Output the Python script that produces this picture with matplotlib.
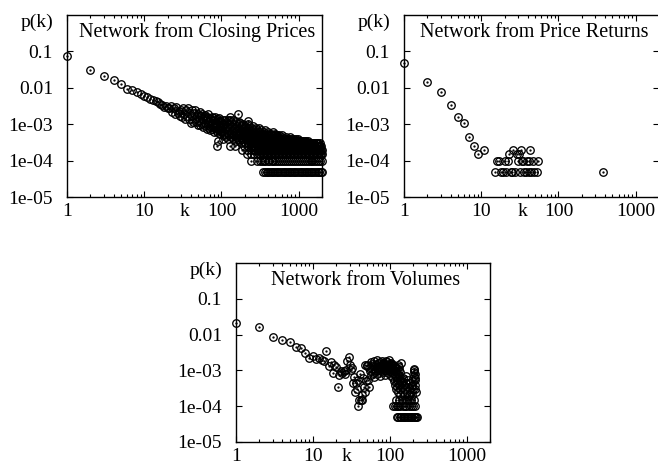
import matplotlib
matplotlib.use("Agg")
import matplotlib.pyplot as plt
from matplotlib.ticker import FixedLocator, FixedFormatter, NullLocator, LogLocator

plt.rcParams['font.family'] = ['Liberation Serif', 'DejaVu Serif']
plt.rcParams['font.size'] = 14

NODES = 20000  # p(k) = count / NODES

# --- network from closing prices ---
# degrees 1..100, one count per degree
close_k = list(range(1, 101))
close_n = [1520, 600, 420, 320, 260, 186, 176, 150, 136, 120,
           112, 100, 92, 86, 80, 74, 66, 60, 64, 56,
           56, 65, 44, 55, 39, 59, 41, 46, 34, 50,
           31, 56, 39, 27, 49, 33, 54, 28, 40, 22,
           49, 33, 23, 40, 27, 48, 23, 33, 19, 39,
           26, 42, 19, 33, 22, 37, 17, 27, 33, 19,
           36, 21, 28, 15, 31, 23, 37, 16, 25, 18,
           30, 14, 26, 20, 32, 15, 22, 17, 29, 12,
           26, 17, 31, 14, 22, 20, 5, 12, 27, 15,
           7, 24, 14, 29, 18, 11, 25, 16, 21, 13]

# degrees above 100, listed by count (they fall on horizontal rows)
close_c1 = [345, 362, 383, 401, 424, 444, 469, 491, 519, 544, 574, 602, 635, 666, 703,
            737, 778, 816, 861, 903, 952, 1000, 1054, 1106, 1166, 1225, 1290, 1355, 1428,
            1500, 1580, 1660, 1749, 1837, 1935, 1998]
close_c2 = [244, 284, 312, 330, 352, 371, 395, 417, 444, 468, 498, 526, 560, 591, 629,
            665, 707, 747, 794, 839, 892, 943, 1002, 1060, 1125, 1191, 1264, 1338, 1420,
            1503, 1596, 1689, 1793, 1898, 1996]
close_c3 = [212, 240, 266, 290, 303, 316, 330, 343, 357, 372, 388, 404, 421, 438, 456,
            475, 495, 515, 536, 558, 581, 605, 630, 656, 683, 711, 741, 771, 803, 836,
            871, 906, 944, 982, 1023, 1065, 1109, 1155, 1203, 1252, 1304, 1357, 1413, 1471,
            1532, 1595, 1661, 1729, 1800, 1874, 1935, 1990]
close_c4 = [185, 214, 238, 262, 274, 287, 300, 314, 327, 340, 354, 369, 384, 400, 417,
            434, 452, 470, 490, 510, 531, 553, 576, 599, 624, 650, 677, 705, 734, 764,
            796, 829, 863, 898, 935, 974, 1014, 1056, 1100, 1145, 1192, 1241, 1292, 1346,
            1401, 1459, 1519, 1582, 1647, 1715, 1786, 1860, 1925, 1985]
close_c5 = [128, 149, 196, 218, 240, 251, 262, 273, 285, 297, 310, 323, 336, 350, 365,
            380, 396, 413, 430, 448, 466, 485, 505, 526, 548, 571, 594, 619, 644, 670,
            698, 727, 757, 789, 821, 855, 890, 927, 965, 1005, 1046, 1089, 1134, 1181,
            1230, 1281, 1333, 1388, 1446, 1505, 1567, 1632, 1699, 1769, 1842, 1905, 1960]
close_c6 = [178, 201, 222, 245, 256, 268, 280, 292, 305, 318, 331, 345, 360, 375, 391,
            407, 424, 441, 459, 478, 498, 518, 539, 561, 584, 608, 633, 659, 686, 714,
            744, 774, 806, 838, 873, 908, 946, 984, 1025, 1066, 1110, 1155, 1203, 1252,
            1303, 1356, 1412, 1469, 1530, 1592, 1657, 1725, 1796, 1869]
close_c7 = [152, 170, 190, 213, 236, 248, 261, 274, 287, 300, 314, 329, 344, 360, 376,
            393, 411, 430, 449, 470, 491, 514, 537, 562, 587, 614, 641, 670, 700, 732,
            765, 800, 836, 874, 913, 955, 998, 1043, 1090, 1140, 1191, 1245, 1301]
close_c8 = [104, 121, 143, 163, 184, 207, 220, 233, 247, 262, 278, 295, 314, 333, 353,
            375, 398, 423, 449, 476, 506, 537, 570, 605, 642, 682, 724, 768, 816, 866,
            920, 976]
close_c9 = [115, 135, 155, 178, 200, 225, 250, 280, 312, 350, 392, 440, 490, 545, 610,
            680, 760]
close_c10 = [108, 126, 147, 168, 190, 202, 214, 227, 241, 256, 272, 289, 306, 325, 345,
             366, 389, 413, 438, 465, 494, 524, 556, 600]
close_c11 = [112, 132, 152, 173, 196, 220, 247, 277, 310, 348, 390, 435, 490]
close_c12 = [100, 117, 137, 156, 176, 198, 223, 251, 283, 319, 359, 405, 458]
close_c14 = [103, 122, 141, 160, 181, 204, 230, 259, 292, 328, 365]
close_c16 = [110, 130, 150, 171, 193, 218, 246, 277, 308]
close_c18 = [101, 119, 137, 157, 178, 203, 229, 258]
close_c20 = [106, 124, 145, 168, 192, 218]
close_c23 = [100, 115, 133, 152, 170]
close_c26 = [104, 112, 121, 130, 139]
close_out_k = [128, 164, 172, 220]
close_out_n = [31, 37, 22, 25]

# --- network from price returns ---
ret_k = [1, 2, 3, 4, 5, 6, 7, 8, 9, 11,
         15, 18, 19, 21, 24, 25, 27, 32, 36, 38, 42, 44, 48, 52,
         16, 17, 20, 22, 30, 34, 35, 39, 41, 47, 54,
         23, 29, 31, 26, 33, 43, 372]
ret_n = [980, 288, 152, 68, 31, 21, 9, 5, 3, 4,
         1, 1, 1, 1, 1, 1, 1, 1, 1, 1, 1, 1, 1, 1,
         2, 2, 2, 2, 2, 2, 2, 2, 2, 2, 2,
         3, 3, 3, 4, 4, 4, 1]

# --- network from volumes ---
vol_n = [430, 320, 174, 142, 124, 92, 82, 60, 44, 52,
         41, 44, 39, 36, 68, 27, 34, 17, 28, 25,
         7, 15, 19, 17, 19, 16, 21, 37, 48, 28,
         20, 24, 9, 13, 5, 9, 6, 11, 2, 3,
         16, 3, 4, 3, 12, 7, 5, 28, 10, 26,
         28, 11, 24, 7, 19, 34, 15, 22, 30, 17,
         26, 13, 36, 21, 18, 29, 24, 38, 16, 23,
         32, 20, 27, 14, 35, 25, 19, 31, 22, 37,
         18, 28, 24, 33, 21, 15, 30, 26, 36, 20,
         27, 23, 34, 17, 29, 25, 38, 19, 31, 22,
         26, 14, 33, 21, 28, 18, 24, 30, 12, 22,
         17, 27, 10, 20, 25, 8, 15, 23, 6, 13,
         19, 9, 24, 11, 7, 16, 28, 5, 12, 20,
         8, 14, 25, 6, 10, 18, 4, 9, 32, 12]
vol_k = list(range(1, len(vol_n) + 1))
vol_tail_k = [143, 145, 148, 150, 152, 154, 157, 161, 163, 167, 170, 174, 177, 181, 184,
              189, 192, 196, 199, 202, 204, 206, 207, 208, 209, 211, 212, 213, 214, 216]
vol_tail_n = [7, 10, 5, 12, 8, 4, 6, 9, 14, 5, 7, 11, 4, 6, 9,
              5, 8, 4, 6, 10, 22, 18, 14, 20, 12, 8, 16, 6, 11, 5]
vol_c1 = [124, 129, 135, 141, 147, 153, 159, 166, 173, 180, 187, 195, 203, 211, 219, 225]
vol_c2 = [110, 116, 122, 128, 137, 146, 155, 164, 175, 186, 197, 210]
vol_c3 = [120, 131, 144, 158, 168, 179, 190, 205]

close_rows = [(1, close_c1), (2, close_c2), (3, close_c3), (4, close_c4), (5, close_c5),
              (6, close_c6), (7, close_c7), (8, close_c8), (9, close_c9), (10, close_c10),
              (11, close_c11), (12, close_c12), (14, close_c14), (16, close_c16),
              (18, close_c18), (20, close_c20), (23, close_c23), (26, close_c26)]
vol_rows = [(1, vol_c1), (2, vol_c2), (3, vol_c3)]


def flatten(k, n, rows=(), extra_k=(), extra_n=()):
    ks = list(k) + list(extra_k)
    ns = list(n) + list(extra_n)
    for cnt, kk in rows:
        ks += kk
        ns += [cnt] * len(kk)
    return ks, [c / NODES for c in ns]


def panel(ax, k, p, title, k_pos):
    ax.plot(k, p, 'o', ms=5.4, mfc='none', mec='black', mew=0.95, clip_on=False)
    ax.plot(k, p, '.', ms=1.3, color='black', clip_on=False)
    ax.set_xscale('log')
    ax.set_yscale('log')
    ax.set_xlim(1, 2000)
    ax.set_ylim(1e-5, 1)
    ax.xaxis.set_major_locator(FixedLocator([1, 10, 100, 1000]))
    ax.xaxis.set_major_formatter(FixedFormatter(['1', '10', '100', '1000']))
    ax.xaxis.set_minor_locator(LogLocator(base=10, subs=range(2, 10)))
    ax.yaxis.set_major_locator(FixedLocator([1e-5, 1e-4, 1e-3, 1e-2, 1e-1]))
    ax.yaxis.set_major_formatter(FixedFormatter(['1e-05', '1e-04', '1e-03', '0.01', '0.1']))
    ax.yaxis.set_minor_locator(NullLocator())
    ax.tick_params(which='both', direction='in', top=True, right=True, width=0.8)
    ax.tick_params(which='major', length=4.5)
    ax.tick_params(which='minor', length=2.2)
    ax.tick_params(axis='x', which='major', pad=4)
    ax.tick_params(axis='y', which='major', pad=10)
    for s in ax.spines.values():
        s.set_linewidth(1.0)
    ax.text(0.512, 0.878, title, transform=ax.transAxes, ha='center', va='baseline',
            fontsize=14.5)
    ax.annotate('p(k)', xy=(0, 1), xycoords='axes fraction', xytext=(-10, -5),
                textcoords='offset points', ha='right', va='center')
    ax.annotate('k', xy=(k_pos, 0), xycoords=('data', 'axes fraction'), xytext=(0, -4),
                textcoords='offset points', ha='center', va='top')


W, H = 658, 474
fig = plt.figure(figsize=(W / 100, H / 100), dpi=100)
ax1 = fig.add_axes([67 / W, (H - 197) / H, 255 / W, 182 / H])
ax2 = fig.add_axes([404 / W, (H - 197) / H, 255 / W, 182 / H])
ax3 = fig.add_axes([236 / W, (H - 442) / H, 254 / W, 179 / H])

k, p = flatten(close_k, close_n, close_rows, close_out_k, close_out_n)
panel(ax1, k, p, 'Network from Closing Prices', 33)
k, p = flatten(ret_k, ret_n)
panel(ax2, k, p, 'Network from Price Returns', 34)
k, p = flatten(vol_k, vol_n, vol_rows, vol_tail_k, vol_tail_n)
panel(ax3, k, p, 'Network from Volumes', 27)

fig.savefig('out.png', dpi=100)
